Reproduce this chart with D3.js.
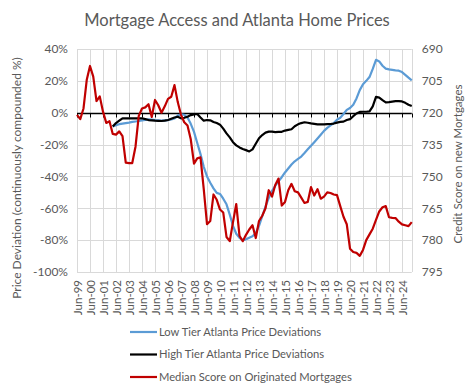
<!DOCTYPE html>
<html><head><meta charset="utf-8">
<script src="https://cdn.jsdelivr.net/npm/d3@7/dist/d3.min.js"></script>
<style>
body{margin:0;background:#fff}
text{font-family:Lato,"Open Sans",sans-serif;fill:#595959}
</style>
</head><body>
<svg id="c" width="473" height="390"></svg>
<script>
// ---------- data (quarterly, index 0 = Jun-99) ----------
const xLabels = ["Jun-99","Jun-00","Jun-01","Jun-02","Jun-03","Jun-04","Jun-05","Jun-06","Jun-07","Jun-08","Jun-09","Jun-10","Jun-11","Jun-12","Jun-13","Jun-14","Jun-15","Jun-16","Jun-17","Jun-18","Jun-19","Jun-20","Jun-21","Jun-22","Jun-23","Jun-24"];
const leftTicks = [40,20,0,-20,-40,-60,-80,-100];
const rightTicks = [690,705,720,735,750,765,780,795];
const tierStartIndex = 11;
const lowTier = [-8.7,-7.8,-7.2,-6.8,-6.5,-6.2,-5.8,-5.5,-5.2,-4.8,-4.5,-4.2,-4.3,-4.6,-4.8,-5,-4.8,-4.6,-4.2,-3.6,-1.8,-1,-1.3,-3,-7,-12,-19,-26,-34,-40,-44,-47.5,-50.3,-51,-54,-57.5,-64,-71,-76,-78.5,-80,-79.5,-78.5,-77.5,-75.5,-71,-65,-59,-53.5,-49,-46,-43,-40.5,-37.5,-35,-32.5,-30.5,-29,-27.5,-25.3,-23,-20.8,-18.5,-16.2,-13.8,-11.4,-9.5,-8,-6.5,-4.4,-3.2,-0.8,1.8,3,5,9,14.2,17.9,20,22.4,27.5,33.2,32.2,29.5,27.7,27.2,26.9,26.6,26.4,25.5,23.8,22,20.3];
const highTier = [-8.7,-6.5,-5,-3.5,-3.5,-3.5,-3.5,-3.5,-3.5,-3.5,-4,-4.6,-4.8,-5,-5.1,-5.2,-5,-4.6,-3.8,-3,-2.5,-3.5,-3.2,-2.5,-1.5,-1,-0.8,-3,-5,-4.6,-4.8,-5.8,-6.5,-7.5,-10,-13,-15.5,-18.5,-20.5,-21.8,-22.8,-23.5,-24.3,-23,-19.5,-16,-14,-12.5,-11.9,-11.9,-12.2,-12,-12,-11.2,-10.8,-10.4,-8.5,-7.3,-6.5,-6,-6.3,-6.7,-7,-7.3,-7.3,-7.3,-7.2,-7.1,-6.8,-6.2,-5.8,-5.6,-4.6,-4,-2.2,-0.5,0.5,0.6,0.6,0.8,4,10,9.5,7.9,6.5,6.7,7,7.3,7.3,7.1,6.2,5,4.2];
const medianScore = [721,723,718,704.5,698,703,714.5,712.3,719.5,724.8,724,730,730.3,728.8,731,743.5,743.7,743.7,736,721.5,718,717.5,716,722,714,716.5,720,717,713.5,712.5,707,715,721,724.5,726,732.5,744,741.5,741,756,772.5,771,758.5,761,765.6,767,778.5,780.5,771.5,763,778,780.5,777.5,775,773,779,771,768.5,765,756.5,759.5,754,751,763.7,762,756.5,753.5,757,757.5,760,762.5,762,755,759,756,760.5,759.5,757.5,757.8,758.5,758.8,764,769,772.5,784,785.6,786,787.4,784.6,780,777.3,774.6,770.5,766.5,764.5,764,769.2,769.5,769.6,771.3,772.6,773,773.4,771.5];
const seriesNames = ["Low Tier Atlanta Price Deviations","High Tier Atlanta Price Deviations","Median Score on Originated Mortgages"];
const seriesColors = ["#5B9BD5","#000000","#C00000"];

// ---------- layout ----------
const svg = d3.select("#c");
const L = 77, R = 411.75, T = 49, B = 272;
const nQ = medianScore.length;
const x = d3.scaleLinear().domain([0, nQ - 1]).range([L, R]);
const yL = d3.scaleLinear().domain([-100, 40]).range([B, T]);
const yR = d3.scaleLinear().domain([795, 690]).range([B, T]);
const labelIdx = xLabels.map((d, k) => k * 4);

// gridlines
const grid = svg.append("g").attr("stroke", "#d9d9d9").attr("stroke-width", 1);
grid.selectAll("line.h").data(leftTicks).join("line")
  .attr("x1", L).attr("x2", R).attr("y1", d => Math.round(yL(d)) + 0.5).attr("y2", d => Math.round(yL(d)) + 0.5);
grid.selectAll("line.v").data(labelIdx.concat([nQ - 1])).join("line")
  .attr("x1", d => Math.round(x(d)) + 0.5).attr("x2", d => Math.round(x(d)) + 0.5).attr("y1", T).attr("y2", B);

// left axis labels
const gl = svg.append("g").attr("transform", `translate(${L - 9},0)`)
  .call(d3.axisLeft(yL).tickValues(leftTicks).tickSize(0).tickFormat(d => d + "%"));
gl.select(".domain").remove();
gl.selectAll("text").attr("x", 0).style("font-size", "12px").style("font-family", "Lato").attr("fill", "#595959");

// right axis labels
const gr = svg.append("g").attr("transform", `translate(${R + 10},0)`)
  .call(d3.axisRight(yR).tickValues(rightTicks).tickSize(0));
gr.select(".domain").remove();
gr.selectAll("text").attr("x", 0).style("font-size", "12px").style("font-family", "Lato").attr("fill", "#595959");

// bottom category labels
const gb = svg.append("g").attr("transform", `translate(0,${B + 8})`)
  .call(d3.axisBottom(x).tickValues(labelIdx).tickSize(0).tickFormat((d, k) => xLabels[k]));
gb.select(".domain").remove();
gb.selectAll("text").attr("transform", "rotate(-90)").attr("x", 0).attr("y", 0).attr("dy", "0.35em")
  .attr("text-anchor", "end").style("font-size", "11.5px").style("font-family", "Lato").attr("fill", "#595959");

// zero axis line with ticks
const y0 = Math.round(yL(0)) + 0.5;
svg.append("line").attr("x1", L).attr("x2", R).attr("y1", y0).attr("y2", y0).attr("stroke", "#000").attr("stroke-width", 1.3);
svg.append("g").selectAll("line").data(labelIdx.concat([nQ - 1])).join("line")
  .attr("x1", d => Math.round(x(d)) + 0.5).attr("x2", d => Math.round(x(d)) + 0.5)
  .attr("y1", y0).attr("y2", y0 + 4).attr("stroke", "#000").attr("stroke-width", 1);

// lines
const lineL = d3.line().x(d => x(d.i)).y(d => yL(d.v));
const lineR = d3.line().x(d => x(d.i)).y(d => yR(d.v));
const lowData = lowTier.map((v, k) => ({ i: k + tierStartIndex, v }));
const highData = highTier.map((v, k) => ({ i: k + tierStartIndex, v }));
const scoreData = medianScore.map((v, k) => ({ i: k, v }));
svg.append("path").datum(lowData).attr("d", lineL).attr("fill", "none").attr("stroke", seriesColors[0]).attr("stroke-width", 2.2).attr("stroke-linejoin", "round");
svg.append("path").datum(highData).attr("d", lineL).attr("fill", "none").attr("stroke", seriesColors[1]).attr("stroke-width", 2.2).attr("stroke-linejoin", "round");
svg.append("path").datum(scoreData).attr("d", lineR).attr("fill", "none").attr("stroke", seriesColors[2]).attr("stroke-width", 2.2).attr("stroke-linejoin", "round");

// title
svg.append("text").attr("x", 237).attr("y", 26).attr("text-anchor", "middle")
  .style("font-size", "16.5px").text("Mortgage Access and Atlanta Home Prices");

// axis titles
svg.append("text").attr("transform", "translate(21,178) rotate(-90)").attr("text-anchor", "middle")
  .style("font-size", "12px").text("Price Deviation (continuously compounded %)");
svg.append("text").attr("transform", "translate(462,164) rotate(-90)").attr("text-anchor", "middle")
  .style("font-size", "11.5px").text("Credit Score on new Mortgages");

// legend
const lg = svg.append("g");
const legY = [332, 354.5, 377];
seriesNames.forEach((n, k) => {
  lg.append("line").attr("x1", 130).attr("x2", 157).attr("y1", legY[k]).attr("y2", legY[k])
    .attr("stroke", seriesColors[k]).attr("stroke-width", 2.2);
  lg.append("text").attr("x", 159).attr("y", legY[k]).attr("dy", "0.35em").style("font-size", "11.2px").text(n);
});
</script>
</body></html>
